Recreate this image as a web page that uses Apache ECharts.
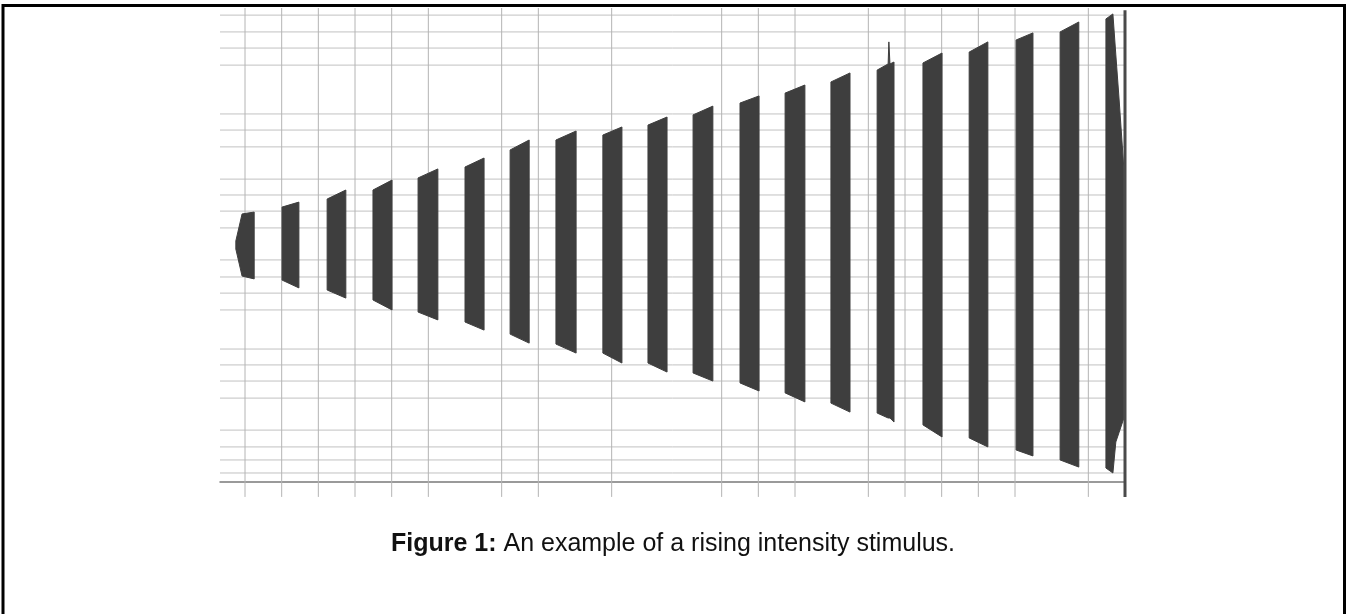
<!DOCTYPE html>
<html>
<head>
<meta charset="UTF-8">
<title></title>
<script type="text/javascript" src="https://cdn.jsdelivr.net/npm/echarts@6/dist/echarts.min.js"></script>
<style type="text/css">
html, body {
	margin: 0;
	padding: 0;
	background: #fff;
}
#main {
	width: 1346px;
	height: 614px;
}
</style>
</head>
<body>
<div id="main"></div>
<script>
// x in grid divisions, amplitude normalised to -1..1
var xMin = -0.682;
var xMax = 24;

// grid lines that the screen capture shows
var gridX = [0, 1, 2, 3, 4, 5, 7, 8, 10, 13, 14, 15, 17, 18, 19, 20, 21, 23];
var gridY = [0.970, 0.899, 0.831, 0.759, 0.553, 0.485, 0.414, 0.278, 0.211, 0.143, 0.072,
	-0.063, -0.135, -0.203, -0.274, -0.439, -0.506, -0.574, -0.646, -0.781, -0.852, -0.907, -0.962];
var frameX = [24];

// envelope of each of the 20 bursts: x points, top and bottom at those points
var burstX = [
	[-0.25, -0.08, 0.25],
	[1.01, 1.47],
	[2.24, 2.75],
	[3.49, 4.01],
	[4.72, 5.26],
	[6.00, 6.52],
	[7.23, 7.75],
	[8.48, 9.03],
	[9.76, 10.28],
	[10.99, 11.51],
	[12.22, 12.76],
	[13.50, 14.02],
	[14.73, 15.27],
	[15.98, 16.50],
	[17.24, 17.54, 17.56, 17.59, 17.70],
	[18.49, 19.01],
	[19.75, 20.26],
	[21.03, 21.49],
	[22.23, 22.74],
	[23.48, 23.67, 23.75, 23.84, 23.97]
];
var burstTop = [
	[0.017, 0.131, 0.139],
	[0.160, 0.181],
	[0.194, 0.232],
	[0.232, 0.274],
	[0.283, 0.321],
	[0.329, 0.367],
	[0.401, 0.443],
	[0.443, 0.481],
	[0.464, 0.498],
	[0.506, 0.540],
	[0.549, 0.586],
	[0.599, 0.629],
	[0.641, 0.675],
	[0.688, 0.726],
	[0.738, 0.764, 0.857, 0.764, 0.772],
	[0.768, 0.810],
	[0.814, 0.857],
	[0.865, 0.895],
	[0.899, 0.941],
	[0.954, 0.975, 0.802, 0.612, 0.320]
];
var burstBottom = [
	[-0.017, -0.131, -0.143],
	[-0.148, -0.181],
	[-0.190, -0.224],
	[-0.232, -0.274],
	[-0.283, -0.316],
	[-0.325, -0.359],
	[-0.376, -0.414],
	[-0.418, -0.456],
	[-0.456, -0.498],
	[-0.498, -0.536],
	[-0.540, -0.574],
	[-0.582, -0.616],
	[-0.624, -0.662],
	[-0.667, -0.705],
	[-0.709, -0.730, -0.730, -0.730, -0.747],
	[-0.759, -0.810],
	[-0.814, -0.852],
	[-0.865, -0.890],
	[-0.907, -0.937],
	[-0.941, -0.962, -0.831, -0.790, -0.730]
];

var tickBottom = -1.063;
var font = 'Liberation Sans, Arial, sans-serif';

var chart = echarts.init(document.getElementById('main'));

function vLine(params, api) {
	var a = api.coord([api.value(0), 1]);
	var b = api.coord([api.value(0), tickBottom]);
	return {
		type: 'line',
		shape: {x1: a[0], y1: a[1], x2: b[0], y2: b[1]},
		style: {stroke: '#b4b4b4', lineWidth: 1}
	};
}

function hLine(params, api) {
	var a = api.coord([xMin, api.value(0)]);
	var b = api.coord([xMax, api.value(0)]);
	return {
		type: 'line',
		shape: {x1: a[0], y1: a[1], x2: b[0], y2: b[1]},
		style: {stroke: '#c2c2c2', lineWidth: 1}
	};
}

function frameLine(params, api) {
	var a = api.coord([api.value(0), 0.99]);
	var b = api.coord([api.value(0), tickBottom]);
	return {
		type: 'line',
		shape: {x1: a[0], y1: a[1], x2: b[0], y2: b[1]},
		style: {stroke: '#4a4a4a', lineWidth: 3}
	};
}

function burst(params, api) {
	var i = api.value(2);
	var xs = burstX[i], tops = burstTop[i], bots = burstBottom[i];
	var pts = [];
	for (var k = 0; k < xs.length; k++) {
		pts.push(api.coord([xs[k], tops[k]]));
	}
	for (var k = xs.length - 1; k >= 0; k--) {
		pts.push(api.coord([xs[k], bots[k]]));
	}
	return {
		type: 'polygon',
		shape: {points: pts},
		style: {fill: '#3e3e3e', stroke: '#3e3e3e', lineWidth: 1}
	};
}

var option = {
	backgroundColor: '#fff',
	animation: false,
	title: {
		text: '{b|Figure 1:} An example of a rising intensity stimulus.',
		left: 'center',
		top: 527,
		textStyle: {
			fontFamily: font,
			fontSize: 25,
			fontWeight: 'normal',
			color: '#111',
			rich: {
				b: {fontFamily: font, fontSize: 25, fontWeight: 'bold', color: '#111'}
			}
		}
	},
	graphic: [{
		type: 'rect',
		shape: {x: 3, y: 5.5, width: 1341.5, height: 700},
		style: {fill: 'none', stroke: '#000', lineWidth: 3},
		silent: true
	}],
	grid: {left: 220, right: 221, top: 8, bottom: 132},
	xAxis: {
		type: 'value',
		min: xMin,
		max: xMax,
		axisLine: {show: true, onZero: false, lineStyle: {color: '#7a7a7a', width: 1.5}},
		axisTick: {show: false},
		axisLabel: {show: false},
		splitLine: {show: false}
	},
	yAxis: {
		type: 'value',
		min: -1,
		max: 1,
		axisLine: {show: false},
		axisTick: {show: false},
		axisLabel: {show: false},
		splitLine: {show: false}
	},
	series: [
		{
			type: 'custom',
			silent: true,
			z: 1,
			renderItem: hLine,
			data: gridY.map(function (v) { return [v]; }),
			encode: {y: 0}
		},
		{
			type: 'custom',
			silent: true,
			z: 1,
			renderItem: vLine,
			data: gridX.map(function (v) { return [v]; }),
			encode: {x: 0}
		},
		{
			type: 'custom',
			silent: true,
			z: 3,
			renderItem: burst,
			data: burstX.map(function (xs, i) { return [xs[0], xs[xs.length - 1], i]; }),
			encode: {x: [0, 1]}
		},
		{
			type: 'custom',
			silent: true,
			z: 4,
			renderItem: frameLine,
			data: frameX.map(function (v) { return [v]; }),
			encode: {x: 0}
		}
	]
};

chart.setOption(option);
</script>
</body>
</html>
